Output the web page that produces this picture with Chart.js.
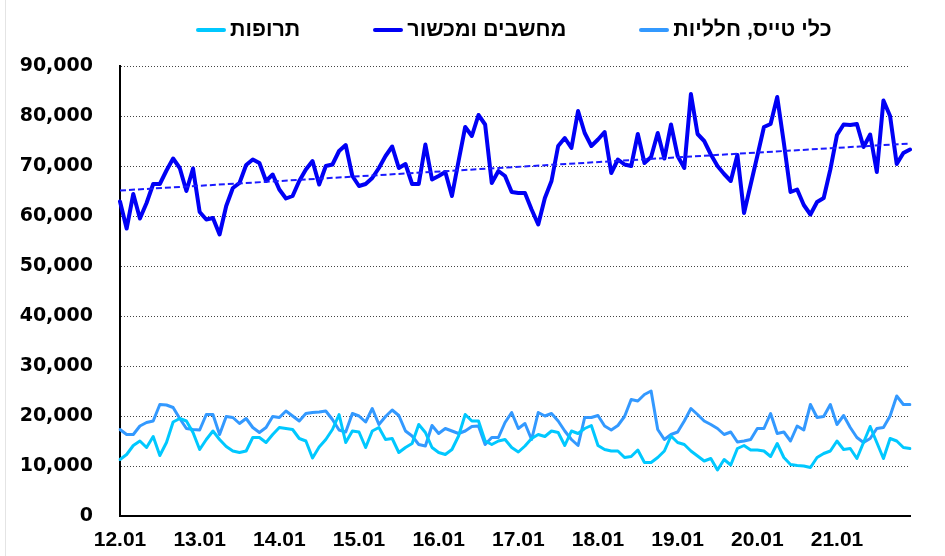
<!DOCTYPE html>
<html>
<head>
<meta charset="utf-8">
<script src="https://cdn.jsdelivr.net/npm/chart.js@4.4.1/dist/chart.umd.min.js"></script>
<style>
  html, body { margin: 0; padding: 0; background: #fff; }
  #wrap { position: relative; width: 945px; height: 556px; overflow: hidden; }
  #edge { position: absolute; left: 5px; top: 0; bottom: 0; border-left: 1px solid #e4e4e4; }
  #legend { position: absolute; top: 17px; left: 196px; display: flex; align-items: center;
    font: bold 21.5px 'Liberation Sans', Arial, sans-serif; color: #000; white-space: nowrap; }
  .item { display: flex; align-items: center; margin-right: 73px; }
  .swatch { display: inline-block; width: 30px; height: 4px; margin-right: 4px; border-radius: 2px; }
</style>
</head>
<body>
<div id="wrap">
  <div id="edge"></div>
  <canvas id="chart"></canvas>
  <div id="legend"></div>
</div>
<script>
// monthly categories, Jan 2012 .. Dec 2021
const months = [
  '12.01','12.02','12.03','12.04','12.05','12.06','12.07','12.08','12.09','12.10','12.11','12.12',
  '13.01','13.02','13.03','13.04','13.05','13.06','13.07','13.08','13.09','13.10','13.11','13.12',
  '14.01','14.02','14.03','14.04','14.05','14.06','14.07','14.08','14.09','14.10','14.11','14.12',
  '15.01','15.02','15.03','15.04','15.05','15.06','15.07','15.08','15.09','15.10','15.11','15.12',
  '16.01','16.02','16.03','16.04','16.05','16.06','16.07','16.08','16.09','16.10','16.11','16.12',
  '17.01','17.02','17.03','17.04','17.05','17.06','17.07','17.08','17.09','17.10','17.11','17.12',
  '18.01','18.02','18.03','18.04','18.05','18.06','18.07','18.08','18.09','18.10','18.11','18.12',
  '19.01','19.02','19.03','19.04','19.05','19.06','19.07','19.08','19.09','19.10','19.11','19.12',
  '20.01','20.02','20.03','20.04','20.05','20.06','20.07','20.08','20.09','20.10','20.11','20.12',
  '21.01','21.02','21.03','21.04','21.05','21.06','21.07','21.08','21.09','21.10','21.11','21.12'
];
const tickLabels = ['12.01','13.01','14.01','15.01','16.01','17.01','18.01','19.01','20.01','21.01'];
const yTicks = [0, 10000, 20000, 30000, 40000, 50000, 60000, 70000, 80000, 90000];

// computers & equipment
const computers = [
  62900, 57500, 64400, 59500, 62600, 66400, 66400, 69100, 71500, 69600, 65000, 69500,
  60800, 59300, 59600, 56300, 62000, 65600, 66600, 70200, 71300, 70600, 67000, 68300,
  65300, 63500, 64000, 67000, 69300, 71000, 66300, 70000, 70300, 73000, 74200, 68000,
  66000, 66400, 67600, 69600, 72000, 73900, 69600, 70400, 66400, 66400, 74300, 67300,
  68000, 68800, 64000, 71000, 77800, 76000, 80200, 78300, 66600, 69000, 68000, 64800,
  64600, 64600, 61300, 58300, 63600, 67000, 74000, 75600, 73600, 81000, 76600, 74000,
  75300, 76800, 68600, 71300, 70300, 70000, 76400, 70600, 71800, 76600, 71500, 78300,
  72000, 69600, 84400, 76400, 75000, 72300, 70000, 68400, 67000, 72200, 60600, 66300,
  72000, 77800, 78400, 83800, 74600, 64800, 65300, 62200, 60300, 62800, 63600, 69300,
  76200, 78300, 78200, 78400, 73800, 76300, 68800, 83100, 80000, 70400, 72600, 73300
];
// aircraft, spacecraft
const aircraft = [
  17300, 16300, 16300, 18000, 18700, 19000, 22300, 22200, 21700, 19500, 17500, 17300,
  17200, 20300, 20300, 16300, 19900, 19700, 18500, 19500, 17700, 16700, 17700, 19900,
  19700, 21000, 20000, 19000, 20500, 20700, 20800, 21000, 19300, 17200, 16800, 20500,
  20000, 18800, 21500, 18300, 19900, 21200, 20100, 17000, 16000, 14300, 14000, 18100,
  16500, 17500, 17000, 16500, 17000, 17900, 18000, 14300, 15700, 15700, 18700, 20700,
  17500, 18500, 15300, 20700, 20000, 20500, 19000, 17000, 15300, 14100, 19700, 19700,
  20100, 18000, 17200, 18100, 19900, 23300, 23000, 24300, 25000, 17300, 15300, 16300,
  16800, 19000, 21500, 20300, 19000, 18300, 17500, 16300, 16800, 14800, 15000, 15300,
  17500, 17500, 20500, 16500, 16800, 15000, 18000, 17200, 22300, 19700, 19900, 22300,
  18300, 20100, 17700, 15700, 14700, 15500, 17500, 17700, 20000, 24000, 22300, 22300
];
// pharmaceuticals
const drugs = [
  11300, 12300, 14100, 15000, 13700, 15900, 12100, 14700, 18800, 19500, 19000, 16700,
  13300, 15300, 17000, 15300, 13900, 13000, 12700, 13000, 15700, 15700, 14700, 16300,
  17700, 17500, 17300, 15500, 15000, 11600, 13800, 15300, 17300, 20300, 14700, 17000,
  16800, 13700, 17000, 17700, 15300, 15500, 12700, 13700, 14500, 18300, 16700, 13700,
  12700, 12300, 13300, 16000, 20300, 19000, 19000, 15000, 14300, 15000, 15300, 13700,
  12800, 14000, 15500, 16300, 15900, 17000, 16700, 14100, 17000, 16500, 17500, 18100,
  14100, 13300, 13000, 13000, 11700, 11900, 13200, 10700, 10700, 11700, 13000, 16000,
  14700, 14300, 13000, 12000, 11000, 11500,  9200, 11300, 10200, 13500, 14100, 13200,
  13200, 13000, 11900, 14500, 11700, 10300, 10100, 10000,  9700, 11700, 12500, 13000,
  15000, 13300, 13500, 11500, 14700, 17900, 14700, 11500, 15500, 15000, 13700, 13500
];
// dashed linear trend of computers: end values
const trendStart = 65100;
const trendEnd = 74500;

const trend = months.map((m, i) => (i === 0 ? trendStart : i === months.length - 1 ? trendEnd : null));

const lineBase = { pointRadius: 0, pointHoverRadius: 0, tension: 0, borderJoinStyle: 'round', borderCapStyle: 'round', fill: false };

const ctx = document.getElementById('chart');
const chart = new Chart(ctx, {
  type: 'line',
  data: {
    labels: months,
    datasets: [
      { ...lineBase, label: 'trend', data: trend, borderColor: '#1a1aff', borderWidth: 2, borderDash: [6, 3], borderCapStyle: 'butt', spanGaps: true, legend: false },
      { ...lineBase, label: 'תרופות', data: drugs, borderColor: '#00c8ff', borderWidth: 3 },
      { ...lineBase, label: 'מחשבים ומכשור', data: computers, borderColor: '#0000f5', borderWidth: 4 },
      { ...lineBase, label: 'כלי טייס, חלליות', data: aircraft, borderColor: '#3399ff', borderWidth: 3 },
    ],
  },
  options: {
    responsive: true,
    maintainAspectRatio: false,
    animation: false,
    layout: { padding: { top: 66, right: 35, bottom: 0, left: 0 } },
    plugins: { legend: { display: false }, tooltip: { enabled: false } },
    scales: {
      x: {
        type: 'category',
        offset: false,
        grid: { display: false, drawTicks: false },
        border: { display: true, color: '#000', width: 2 },
        afterFit: (s) => { s.height = 40; },
        ticks: {
          autoSkip: false, maxRotation: 0, minRotation: 0, padding: 12, color: '#000',
          font: { family: "'Liberation Sans', Arial, sans-serif", size: 21, weight: 'bold' },
          callback: (v, i) => (tickLabels.includes(months[i]) ? months[i] : ''),
        },
      },
      y: {
        min: yTicks[0],
        max: yTicks[yTicks.length - 1],
        afterBuildTicks: (s) => { s.ticks = yTicks.map((v) => ({ value: v })); },
        afterFit: (s) => { s.width = 120; },
        grid: { drawTicks: false, lineWidth: 1, color: (c) => (c.tick && c.tick.value === 0 ? 'rgba(0,0,0,0)' : '#444') },
        border: { display: true, color: '#000', width: 2, dash: [1, 2] },
        ticks: {
          padding: 27, color: '#000',
          font: { family: "'DejaVu Sans', sans-serif", size: 19, weight: 'bold' },
          callback: (v) => v.toLocaleString('en-US'),
        },
      },
    },
  },
});

// html legend built from the chart's own datasets
const legend = document.getElementById('legend');
chart.data.datasets.filter((d) => d.legend !== false).forEach((d) => {
  const item = document.createElement('div');
  item.className = 'item';
  const sw = document.createElement('span');
  sw.className = 'swatch';
  sw.style.background = d.borderColor;
  const txt = document.createElement('span');
  txt.textContent = d.label;
  item.appendChild(sw);
  item.appendChild(txt);
  legend.appendChild(item);
});
</script>
</body>
</html>
